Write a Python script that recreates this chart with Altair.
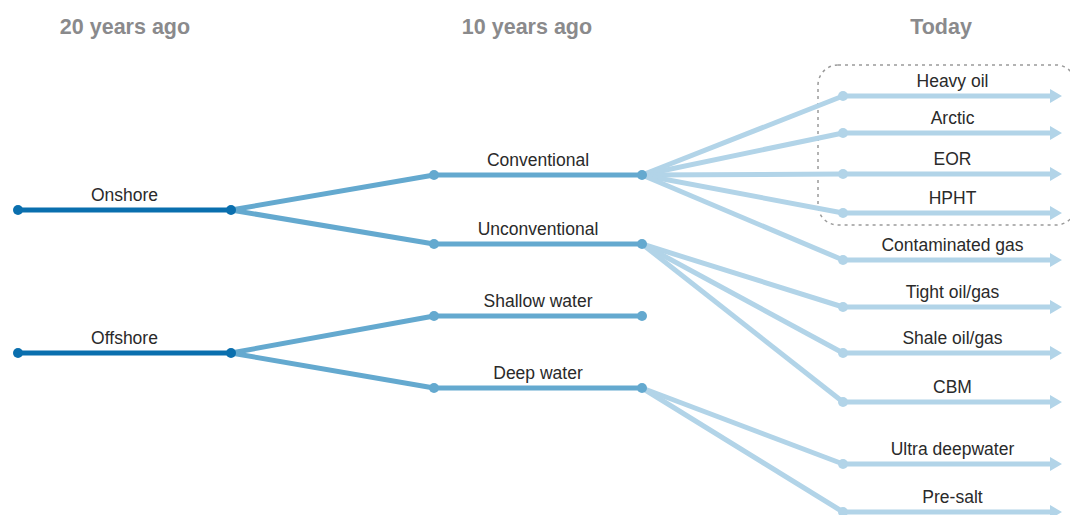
import altair as alt
import pandas as pd

# ---- data ----
stages = ["20 years ago", "10 years ago", "Today"]
stage_center_x = [125, 527, 941]
stage_header_y = [34, 34, 34]

level_x_start = [18, 434, 843]
level_x_end = [231, 642, 1062]

nodes = ["Onshore", "Offshore",
         "Conventional", "Unconventional", "Shallow water", "Deep water",
         "Heavy oil", "Arctic", "EOR", "HPHT", "Contaminated gas",
         "Tight oil/gas", "Shale oil/gas", "CBM", "Ultra deepwater", "Pre-salt"]
node_level = [0, 0, 1, 1, 1, 1, 2, 2, 2, 2, 2, 2, 2, 2, 2, 2]
node_y = [210, 353, 175, 244, 316, 388, 96, 133, 174, 213, 260, 307, 353, 402, 464, 512]
node_parent = [None, None, "Onshore", "Onshore", "Offshore", "Offshore",
               "Conventional", "Conventional", "Conventional", "Conventional", "Conventional",
               "Unconventional", "Unconventional", "Unconventional",
               "Deep water", "Deep water"]

# highlighted group (dashed box) : first / last member
box_members = ["Heavy oil", "HPHT"]

level_colors = ["#0a6fae", "#64a9cf", "#b2d4e8"]

W, H = 1062, 515

# ---- tables ----
ymap = dict(zip(nodes, node_y))
lmap = dict(zip(nodes, node_level))
nodes_df = pd.DataFrame({
    "node": nodes,
    "level": node_level,
    "y": node_y,
    "x0": [level_x_start[l] for l in node_level],
    "x1": [level_x_end[l] for l in node_level],
})
nodes_df["xm"] = (nodes_df["x0"] + nodes_df["x1"]) / 2

branch_df = pd.DataFrame([
    {"level": lmap[n], "x": level_x_end[lmap[p]], "y": ymap[p],
     "x2": level_x_start[lmap[n]], "y2": ymap[n]}
    for n, p in zip(nodes, node_parent) if p is not None
])

dots = []
for n, l, y in zip(nodes, node_level, node_y):
    dots.append({"level": l, "x": level_x_start[l], "y": y})
    if l < 2:
        dots.append({"level": l, "x": level_x_end[l], "y": y})
dots_df = pd.DataFrame(dots)

arrows_df = nodes_df[nodes_df["level"] == 2].copy()

header_df = pd.DataFrame({"t": stages, "x": stage_center_x, "y": stage_header_y})

box_df = pd.DataFrame({
    "x": [level_x_start[2] - 25], "x2": [level_x_end[2] + 14],
    "y": [ymap[box_members[0]] - 31], "y2": [ymap[box_members[1]] + 12],
})

xs = alt.Scale(domain=[8, 8 + W], range=[0, W])
ys = alt.Scale(domain=[8, 8 + H], range=[0, H])
cs = alt.Scale(domain=[0, 1, 2], range=level_colors)
X = lambda f: alt.X(f, type="quantitative", scale=xs, axis=None)
Y = lambda f: alt.Y(f, type="quantitative", scale=ys, axis=None)
C = alt.Color("level:N", scale=cs, legend=None)

box = alt.Chart(box_df).mark_rect(
    fill=None, stroke="#9a9a9a", strokeWidth=1.5, strokeDash=[3, 4], cornerRadius=20
).encode(x=X("x"), x2="x2", y=Y("y"), y2="y2")

branches = alt.Chart(branch_df).mark_rule(strokeWidth=5).encode(
    x=X("x"), x2="x2", y=Y("y"), y2="y2", color=C)

hlines = alt.Chart(nodes_df).transform_calculate(
    xe="datum.level == 2 ? datum.x1 - 10 : datum.x1"
).mark_rule(strokeWidth=5).encode(x=X("x0"), x2="xe:Q", y=Y("y"), color=C)

dots_l = alt.Chart(dots_df).mark_circle(size=100, opacity=1).encode(
    x=X("x"), y=Y("y"), color=C)

arrows = alt.Chart(arrows_df).mark_point(
    shape="triangle-right", size=190, filled=True, opacity=1
).encode(x=X("x1"), y=Y("y"), color=C, xOffset=alt.value(-6))

labels = alt.Chart(nodes_df).mark_text(
    font="Liberation Sans", fontSize=17.5, color="#2a2a2a", baseline="alphabetic", dy=-9
).encode(x=X("xm"), y=Y("y"), text="node:N")

headers = alt.Chart(header_df).mark_text(
    font="Liberation Sans", fontSize=21.5, fontWeight="bold", color="#8a8a8c",
    baseline="alphabetic"
).encode(x=X("x"), y=Y("y"), text="t:N")

chart = alt.layer(box, branches, hlines, dots_l, arrows, labels, headers).properties(
    width=W, height=H, padding=0,
    autosize=alt.AutoSizeParams(type="none"),
).configure_view(stroke=None)

chart.save("out.html", embed_options={"renderer": "svg", "actions": False})
